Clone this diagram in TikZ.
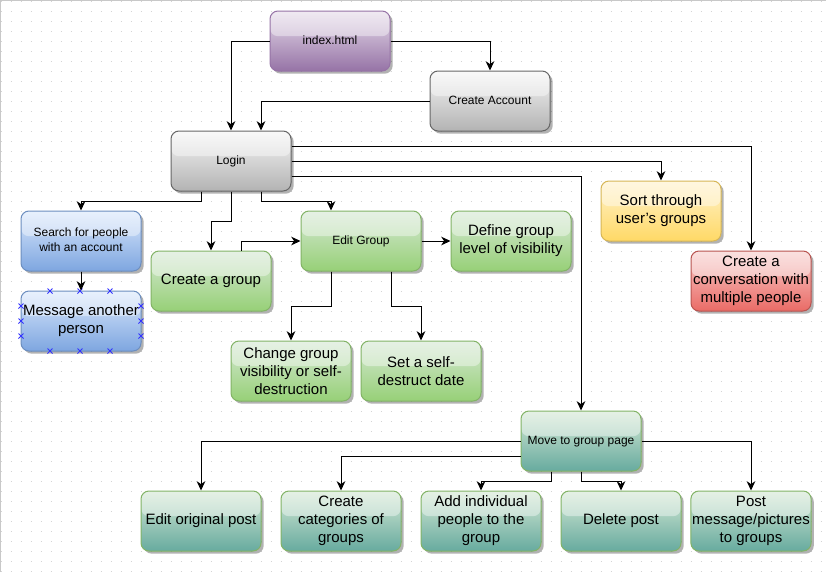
\documentclass[tikz,border=0pt]{standalone}
\usepackage{fontspec}
\setmainfont{Liberation Sans}
\usetikzlibrary{arrows.meta,shadows,calc}

\definecolor{dotcol}{HTML}{D4D4D4}
\definecolor{framecol}{HTML}{C8C8C8}
\definecolor{grayA}{HTML}{F5F5F5}\definecolor{grayB}{HTML}{B3B3B3}\definecolor{grayS}{HTML}{666666}
\definecolor{purA}{HTML}{E6DCEA}\definecolor{purB}{HTML}{9673A6}\definecolor{purS}{HTML}{9673A6}
\definecolor{bluA}{HTML}{DAE8FC}\definecolor{bluB}{HTML}{7EA6E0}\definecolor{bluS}{HTML}{6C8EBF}
\definecolor{grnA}{HTML}{D5E8D4}\definecolor{grnB}{HTML}{97D077}\definecolor{grnS}{HTML}{82B366}
\definecolor{yelA}{HTML}{FFF2CC}\definecolor{yelB}{HTML}{FFD966}\definecolor{yelS}{HTML}{D6B656}
\definecolor{redA}{HTML}{F8CECC}\definecolor{redB}{HTML}{EA6B66}\definecolor{redS}{HTML}{B85450}
\definecolor{tealA}{HTML}{D5E8D4}\definecolor{tealB}{HTML}{67AB9F}\definecolor{tealS}{HTML}{82B366}
\definecolor{handle}{HTML}{3333FF}

\tikzset{
  box/.style={rounded corners=6pt, minimum width=90pt, minimum height=45pt, inner sep=1pt,
    align=center, line width=0.75pt, font=\fontsize{11.25}{13.5}\selectfont,
    drop shadow={shadow xshift=2pt,shadow yshift=-2pt,opacity=0.3,fill=black},
    path picture={\fill[white,opacity=0.4] (path picture bounding box.north west) rectangle
      ($(path picture bounding box.north east)!0.42!(path picture bounding box.south east)$);}},
  smalltext/.style={font=\fontsize{9}{11.25}\selectfont, text depth=1.5pt},
  graybox/.style={box, draw=grayS, top color=grayA, bottom color=grayB},
  purbox/.style={box, draw=purS, top color=purA, bottom color=purB},
  blubox/.style={box, draw=bluS, top color=bluA, bottom color=bluB},
  grnbox/.style={box, draw=grnS, top color=grnA, bottom color=grnB},
  yelbox/.style={box, draw=yelS, top color=yelA, bottom color=yelB},
  redbox/.style={box, draw=redS, top color=redA, bottom color=redB},
  tealbox/.style={box, draw=tealS, top color=tealA, bottom color=tealB},
  conn/.style={line width=0.75pt, -{Stealth[length=7pt,width=6.5pt,inset=2.2pt]}},
  hmark/.style={handle, line width=0.55pt}
}

\begin{document}
\begin{tikzpicture}[x=0.75pt,y=-0.75pt]
\useasboundingbox (0,0) rectangle (826,572);
\fill[white] (0,0) rectangle (826,572);
% dot grid
\foreach \yy in {1,11,...,571}
  \draw[dotcol, line width=0.75pt, dash pattern=on 0.75pt off 6.75pt] (0.5,\yy) -- (826,\yy);
% canvas frame
\draw[framecol, line width=1pt] (0,0.5) -- (826,0.5);
\draw[framecol, line width=1pt] (0.7,0) -- (0.7,572);

% nodes
\node[purbox, smalltext] (index) at (330,41) {index.html};
\node[graybox, smalltext] (account) at (490,101) {Create Account};
\node[graybox, smalltext] (login) at (231,161) {Login};
\node[blubox, smalltext] (search) at (81,241) {Search for people\\with an account};
\node[blubox] (message) at (81,321) {Message another\\person};
\node[grnbox] (creategroup) at (211,281) {Create a group};
\node[grnbox, smalltext] (editgroup) at (361,241) {Edit Group};
\node[grnbox] (define) at (511,241) {Define group\\level of visibility};
\node[grnbox] (change) at (291,371) {Change group\\visibility or self-\\destruction};
\node[grnbox] (selfdestruct) at (421,371) {Set a self-\\destruct date};
\node[yelbox] (sort) at (661,211) {Sort through\\user’s groups};
\node[redbox] (conversation) at (751,281) {Create a\\conversation with\\multiple people};
\node[tealbox, smalltext] (move) at (581,441) {Move to group page};
\node[tealbox] (edit) at (201,521) {Edit original post};
\node[tealbox] (categories) at (341,521) {Create\\categories of\\groups};
\node[tealbox] (add) at (481,521) {Add individual\\people to the\\group};
\node[tealbox] (delete) at (621,521) {Delete post};
\node[tealbox] (post) at (751,521) {Post\\message/pictures\\to groups};

% selection handles on "Message another person"
\foreach \hx/\hy in {50/291,80/291,110/291,50/351,80/351,110/351,21/306,21/321,21/336,141/306,141/321,141/336}
  \draw[hmark] (\hx-2.5,\hy-2.5) -- (\hx+2.5,\hy+2.5) (\hx-2.5,\hy+2.5) -- (\hx+2.5,\hy-2.5);

% connectors
\draw[conn] (index.west) -| (login.north);
\draw[conn] (index.east) -| (account.north);
\draw[conn] (account.west) -| ($(login.north)+(30,0)$);
\draw[conn] ($(login.east)+(0,-15)$) -| (conversation.north);
\draw[conn] (login.east) -| (sort.north);
\draw[conn] ($(login.east)+(0,15)$) -| (move.north);
\draw[conn] ($(login.south)+(-30,0)$) -- ++(0,10) -| (search.north);
\draw[conn] (login.south) -- ++(0,30) -| (creategroup.north);
\draw[conn] ($(login.south)+(30,0)$) -- ++(0,10) -| ($(editgroup.north)+(-30,0)$);
\draw[conn] (search.south) -- (message.north);
\draw[conn] ($(creategroup.north)+(30,0)$) |- (editgroup.west);
\draw[conn] (editgroup.east) -- (define.west);
\draw[conn] ($(editgroup.south)+(-30,0)$) -- ++(0,35) -| (change.north);
\draw[conn] ($(editgroup.south)+(30,0)$) -- ++(0,35) -| (selfdestruct.north);
\draw[conn] (move.west) -| (edit.north);
\draw[conn] ($(move.west)+(0,15)$) -| (categories.north);
\draw[conn] ($(move.south)+(-30,0)$) -- ++(0,10) -| (add.north);
\draw[conn] (move.south) -- ++(0,10) -| (delete.north);
\draw[conn] (move.east) -| (post.north);
\end{tikzpicture}
\end{document}
